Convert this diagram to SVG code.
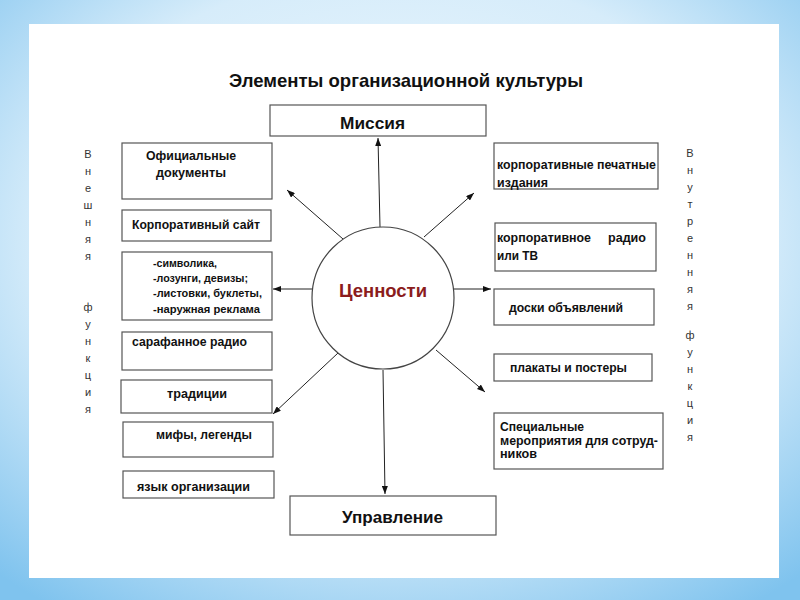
<svg xmlns="http://www.w3.org/2000/svg" width="800" height="600" viewBox="0 0 800 600">
<defs>
<radialGradient id="bg" cx="50%" cy="40%" r="75%">
<stop offset="0" stop-color="#f4fbff"/>
<stop offset="0.6" stop-color="#d6ecfa"/>
<stop offset="1" stop-color="#7fc3ee"/>
</radialGradient>
<marker id="ah" markerUnits="userSpaceOnUse" markerWidth="8" markerHeight="6" refX="8" refY="3" orient="auto">
<path d="M0,0 L8,3 L0,6 z" fill="#111"/>
</marker>
<style>
.box{fill:#fff;stroke:#555;stroke-width:1.2}
.t{font-family:"Liberation Sans",Arial,sans-serif;font-weight:bold;font-size:12px;fill:#111}
.s{font-size:11px}
.v{font-family:"Liberation Sans",Arial,sans-serif;font-size:11px;fill:#333;text-anchor:middle}
.c{stroke:#222;stroke-width:1;fill:none;marker-end:url(#ah)}
</style>
</defs>
<rect width="800" height="600" fill="url(#bg)"/>
<rect x="29" y="24" width="750" height="554" fill="#fff"/>
<text x="229" y="87" class="t" style="font-size:19px" textLength="354" lengthAdjust="spacingAndGlyphs">Элементы организационной культуры</text>

<g id="connectors">
<path class="c" d="M380,227 L378,138"/>
<path class="c" d="M383,370 L385,494"/>
<path class="c" d="M343,239 L287,190"/>
<path class="c" d="M424,237 L474,193"/>
<path class="c" d="M313,289 L273,289"/>
<path class="c" d="M454,289 L491,289"/>
<path class="c" d="M338,353 L273,414"/>
<path class="c" d="M436,350 L485,392"/>
</g>

<g id="values">
<circle cx="383" cy="298" r="71" fill="#fff" stroke="#444" stroke-width="1.2"/>
<text x="339" y="297" class="t" style="font-size:19px;fill:#8b1c1c" textLength="88" lengthAdjust="spacingAndGlyphs">Ценности</text>
</g>

<g id="mission">
<rect class="box" x="270" y="105" width="216" height="31"/>
<text x="340" y="129" class="t" style="font-size:16px" textLength="65" lengthAdjust="spacingAndGlyphs">Миссия</text>
</g>

<g id="management">
<rect class="box" x="290" y="496" width="206" height="39"/>
<text x="342" y="523" class="t" style="font-size:17px" textLength="101" lengthAdjust="spacingAndGlyphs">Управление</text>
</g>

<g id="official-docs">
<rect class="box" x="122" y="143" width="150" height="56"/>
<text x="146" y="160" class="t" textLength="90" lengthAdjust="spacingAndGlyphs">Официальные</text>
<text x="156" y="177" class="t" textLength="70" lengthAdjust="spacingAndGlyphs">документы</text>
</g>

<g id="corp-site">
<rect class="box" x="122" y="210" width="149" height="31"/>
<text x="132" y="229" class="t" textLength="128" lengthAdjust="spacingAndGlyphs">Корпоративный сайт</text>
</g>

<g id="symbols">
<rect class="box" x="122" y="252" width="150" height="68"/>
<text x="153" y="267" class="t s" textLength="64" lengthAdjust="spacingAndGlyphs">-символика,</text>
<text x="153" y="282" class="t s" textLength="95" lengthAdjust="spacingAndGlyphs">-лозунги, девизы;</text>
<text x="153" y="297" class="t s" textLength="109" lengthAdjust="spacingAndGlyphs">-листовки, буклеты,</text>
<text x="153" y="313" class="t s" textLength="107" lengthAdjust="spacingAndGlyphs">-наружная реклама</text>
</g>

<g id="word-of-mouth">
<rect class="box" x="122" y="332" width="150" height="38"/>
<text x="132" y="346" class="t" textLength="115" lengthAdjust="spacingAndGlyphs">сарафанное радио</text>
</g>

<g id="traditions">
<rect class="box" x="121" y="380" width="151" height="33"/>
<text x="167" y="398" class="t" textLength="60" lengthAdjust="spacingAndGlyphs">традиции</text>
</g>

<g id="myths">
<rect class="box" x="123" y="422" width="150" height="35"/>
<text x="156" y="439" class="t" textLength="96" lengthAdjust="spacingAndGlyphs">мифы, легенды</text>
</g>

<g id="language">
<rect class="box" x="123" y="471" width="151" height="27"/>
<text x="137" y="491" class="t" textLength="113" lengthAdjust="spacingAndGlyphs">язык организации</text>
</g>

<g id="print">
<rect class="box" x="494" y="143" width="164" height="46"/>
<text x="497" y="169" class="t" textLength="159" lengthAdjust="spacingAndGlyphs">корпоративные печатные</text>
<text x="497" y="187" class="t" textLength="51" lengthAdjust="spacingAndGlyphs">издания</text>
</g>

<g id="radio-tv">
<rect class="box" x="495" y="223" width="161" height="48"/>
<text x="497" y="242" class="t" textLength="94" lengthAdjust="spacingAndGlyphs">корпоративное</text>
<text x="608" y="242" class="t" textLength="38" lengthAdjust="spacingAndGlyphs">радио</text>
<text x="497" y="260" class="t" textLength="41" lengthAdjust="spacingAndGlyphs">или ТВ</text>
</g>

<g id="boards">
<rect class="box" x="494" y="289" width="160" height="36"/>
<text x="509" y="312" class="t" textLength="114" lengthAdjust="spacingAndGlyphs">доски объявлений</text>
</g>

<g id="posters">
<rect class="box" x="494" y="354" width="158" height="27"/>
<text x="510" y="372" class="t" textLength="117" lengthAdjust="spacingAndGlyphs">плакаты и постеры</text>
</g>

<g id="events">
<rect class="box" x="494" y="413" width="169" height="56"/>
<text x="500" y="431" class="t" textLength="84" lengthAdjust="spacingAndGlyphs">Специальные</text>
<text x="500" y="445" class="t" textLength="158" lengthAdjust="spacingAndGlyphs">мероприятия для сотруд-</text>
<text x="500" y="458" class="t" textLength="37" lengthAdjust="spacingAndGlyphs">ников</text>
</g>

<g id="external-label">
<text class="v" x="88" y="158">В</text>
<text class="v" x="88" y="175">н</text>
<text class="v" x="88" y="192">е</text>
<text class="v" x="88" y="209">ш</text>
<text class="v" x="88" y="226">н</text>
<text class="v" x="88" y="243">я</text>
<text class="v" x="88" y="260">я</text>
<text class="v" x="88" y="311">ф</text>
<text class="v" x="88" y="328">у</text>
<text class="v" x="88" y="345">н</text>
<text class="v" x="88" y="362">к</text>
<text class="v" x="88" y="379">ц</text>
<text class="v" x="88" y="396">и</text>
<text class="v" x="88" y="413">я</text>
</g>

<g id="internal-label">
<text class="v" x="690" y="157">В</text>
<text class="v" x="690" y="174">н</text>
<text class="v" x="690" y="191">у</text>
<text class="v" x="690" y="208">т</text>
<text class="v" x="690" y="225">р</text>
<text class="v" x="690" y="242">е</text>
<text class="v" x="690" y="259">н</text>
<text class="v" x="690" y="276">н</text>
<text class="v" x="690" y="293">я</text>
<text class="v" x="690" y="310">я</text>
<text class="v" x="690" y="339">ф</text>
<text class="v" x="690" y="356">у</text>
<text class="v" x="690" y="373">н</text>
<text class="v" x="690" y="390">к</text>
<text class="v" x="690" y="407">ц</text>
<text class="v" x="690" y="424">и</text>
<text class="v" x="690" y="441">я</text>
</g>
</svg>
